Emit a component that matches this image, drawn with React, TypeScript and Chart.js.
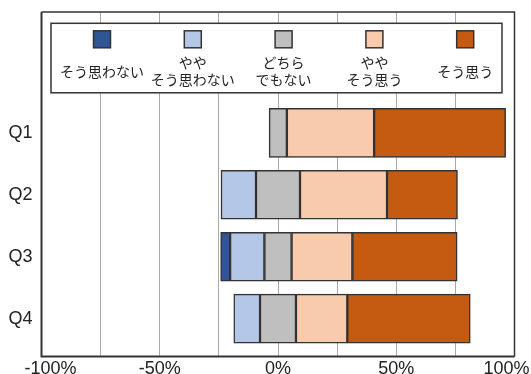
import React, { useEffect, useRef } from "react";
import { Chart, registerables } from "chart.js";

Chart.register(...registerables);

const questions = ["Q1", "Q2", "Q3", "Q4"];
const seriesNames = ["そう思わない", "やや\nそう思わない", "どちら\nでもない", "やや\nそう思う", "そう思う"];
const seriesColors = ["#2F5597", "#B4C7E7", "#BFBFBF", "#F8CBAD", "#C55A11"];
const disagree = [0, 0, 4.0, 0];
const slightlyDisagree = [0, 14.8, 14.5, 11.1];
const neutral = [7.5, 18.6, 11.5, 15.2];
const slightlyAgree = [36.9, 36.8, 25.7, 21.7];
const agree = [55.6, 29.8, 44.3, 52.0];
const xTickValues = [-100, -50, 0, 50, 100];
const xTickLabels = ["-100%", "-50%", "0%", "50%", "100%"];

const LABEL_FONT = "18px 'Liberation Sans', Arial, sans-serif";
const LEGEND_FONT = "14px 'Noto Sans CJK JP', sans-serif";
const TEXT_COLOR = "#222222";
const EDGE_COLOR = "#333333";

function buildDatasets() {
  const series = [disagree, slightlyDisagree, neutral, slightlyAgree, agree];
  const starts = questions.map(
    (_, i) => -(disagree[i] + slightlyDisagree[i] + neutral[i] / 2)
  );
  const cum = starts.slice();
  return series.map((values, k) => {
    const data: any[] = [];
    questions.forEach((_, i) => {
      const s = cum[i];
      const e = s + values[i];
      cum[i] = e;
      if (values[i] > 0) data.push({ x: [s, e], y: i + 1 });
    });
    return {
      label: seriesNames[k],
      data,
      backgroundColor: seriesColors[k],
      borderColor: EDGE_COLOR,
      borderWidth: 1.5,
      borderSkipped: false,
      grouped: false,
      barThickness: 49,
    };
  });
}

const framePlugin = {
  id: "frame",
  afterDraw(chart: any) {
    const { ctx, chartArea } = chart;
    const { left, right, top, bottom } = chartArea;
    ctx.save();
    ctx.strokeStyle = EDGE_COLOR;
    ctx.lineWidth = 1.5;
    ctx.beginPath();
    ctx.moveTo(left, top);
    ctx.lineTo(right, top);
    ctx.lineTo(right, bottom);
    ctx.stroke();
    ctx.lineWidth = 2;
    ctx.beginPath();
    ctx.moveTo(left, top);
    ctx.lineTo(left, bottom);
    ctx.lineTo(right, bottom);
    ctx.stroke();
    ctx.restore();
  },
};

const xLabelPlugin = {
  id: "xLabels",
  afterDraw(chart: any) {
    const { ctx, chartArea } = chart;
    const xs = chart.scales.x;
    ctx.save();
    ctx.font = LABEL_FONT;
    ctx.fillStyle = TEXT_COLOR;
    ctx.textAlign = "center";
    ctx.textBaseline = "alphabetic";
    xTickValues.forEach((v, i) => {
      let px = xs.getPixelForValue(v);
      if (i === 0) px += 9;
      if (i === xTickValues.length - 1) px -= 8;
      ctx.fillText(xTickLabels[i], px, chartArea.bottom + 17.5);
    });
    ctx.restore();
  },
};

const legendPlugin = {
  id: "insideLegend",
  afterDraw(chart: any) {
    const { ctx, chartArea } = chart;
    const bx = chartArea.left + 9.5;
    const by = chartArea.top + 11.3;
    const bw = chartArea.right - chartArea.left - 22;
    const bh = 69.5;
    ctx.save();
    ctx.fillStyle = "#ffffff";
    ctx.fillRect(bx, by, bw, bh);
    ctx.strokeStyle = EDGE_COLOR;
    ctx.lineWidth = 1.5;
    ctx.strokeRect(bx, by, bw, bh);
    const sw = 17;
    const spacing = 90.8;
    chart.data.datasets.forEach((ds: any, i: number) => {
      const cx = bx + 51 + i * spacing;
      ctx.fillStyle = ds.backgroundColor;
      ctx.fillRect(cx - sw / 2, by + 7.5, sw, sw);
      ctx.lineWidth = 1.5;
      ctx.strokeStyle = EDGE_COLOR;
      ctx.strokeRect(cx - sw / 2, by + 7.5, sw, sw);
      const lines = String(ds.label).split("\n");
      ctx.font = LEGEND_FONT;
      ctx.fillStyle = TEXT_COLOR;
      ctx.textAlign = "center";
      ctx.textBaseline = "middle";
      const lh = 17;
      const cy = by + 48;
      lines.forEach((ln, j) => {
        ctx.fillText(ln, cx, cy + (j - (lines.length - 1) / 2) * lh);
      });
    });
    ctx.restore();
  },
};

export default function App() {
  const ref = useRef<HTMLCanvasElement | null>(null);
  useEffect(() => {
    if (!ref.current) return;
    const chart = new Chart(ref.current, {
      type: "bar",
      data: { datasets: buildDatasets() as any },
      options: {
        indexAxis: "y",
        animation: false,
        responsive: false,
        layout: { padding: { top: 12, right: 16.5, bottom: 17.5, left: 0 } },
        plugins: { legend: { display: false }, tooltip: { enabled: false } },
        scales: {
          x: {
            type: "linear",
            min: -100,
            max: 100,
            ticks: { stepSize: 25, display: false },
            grid: { color: "#a8a8a8", lineWidth: 1, drawTicks: false },
            border: { display: false },
          },
          y: {
            type: "linear",
            reverse: true,
            offset: false,
            min: -0.95,
            max: 4.61,
            afterBuildTicks: (scale: any) => {
              scale.ticks = questions.map((_, i) => ({ value: i + 1 }));
            },
            afterFit: (scale: any) => {
              scale.width = 41.5;
            },
            ticks: {
              padding: 9,
              color: TEXT_COLOR,
              font: { family: "'Liberation Sans', Arial, sans-serif", size: 18, lineHeight: 0.3 },
              callback: (v: any) => questions[Number(v) - 1] ?? "",
            },
            grid: { display: false, drawTicks: false },
            border: { display: false },
          },
        },
      } as any,
      plugins: [framePlugin, xLabelPlugin, legendPlugin],
    });
    return () => chart.destroy();
  }, []);
  return (
    <div style={{ position: "fixed", left: 0, top: 0, width: 531, height: 374, background: "#fff" }}>
      <canvas ref={ref} width={531} height={374} style={{ display: "block" }} />
    </div>
  );
}
